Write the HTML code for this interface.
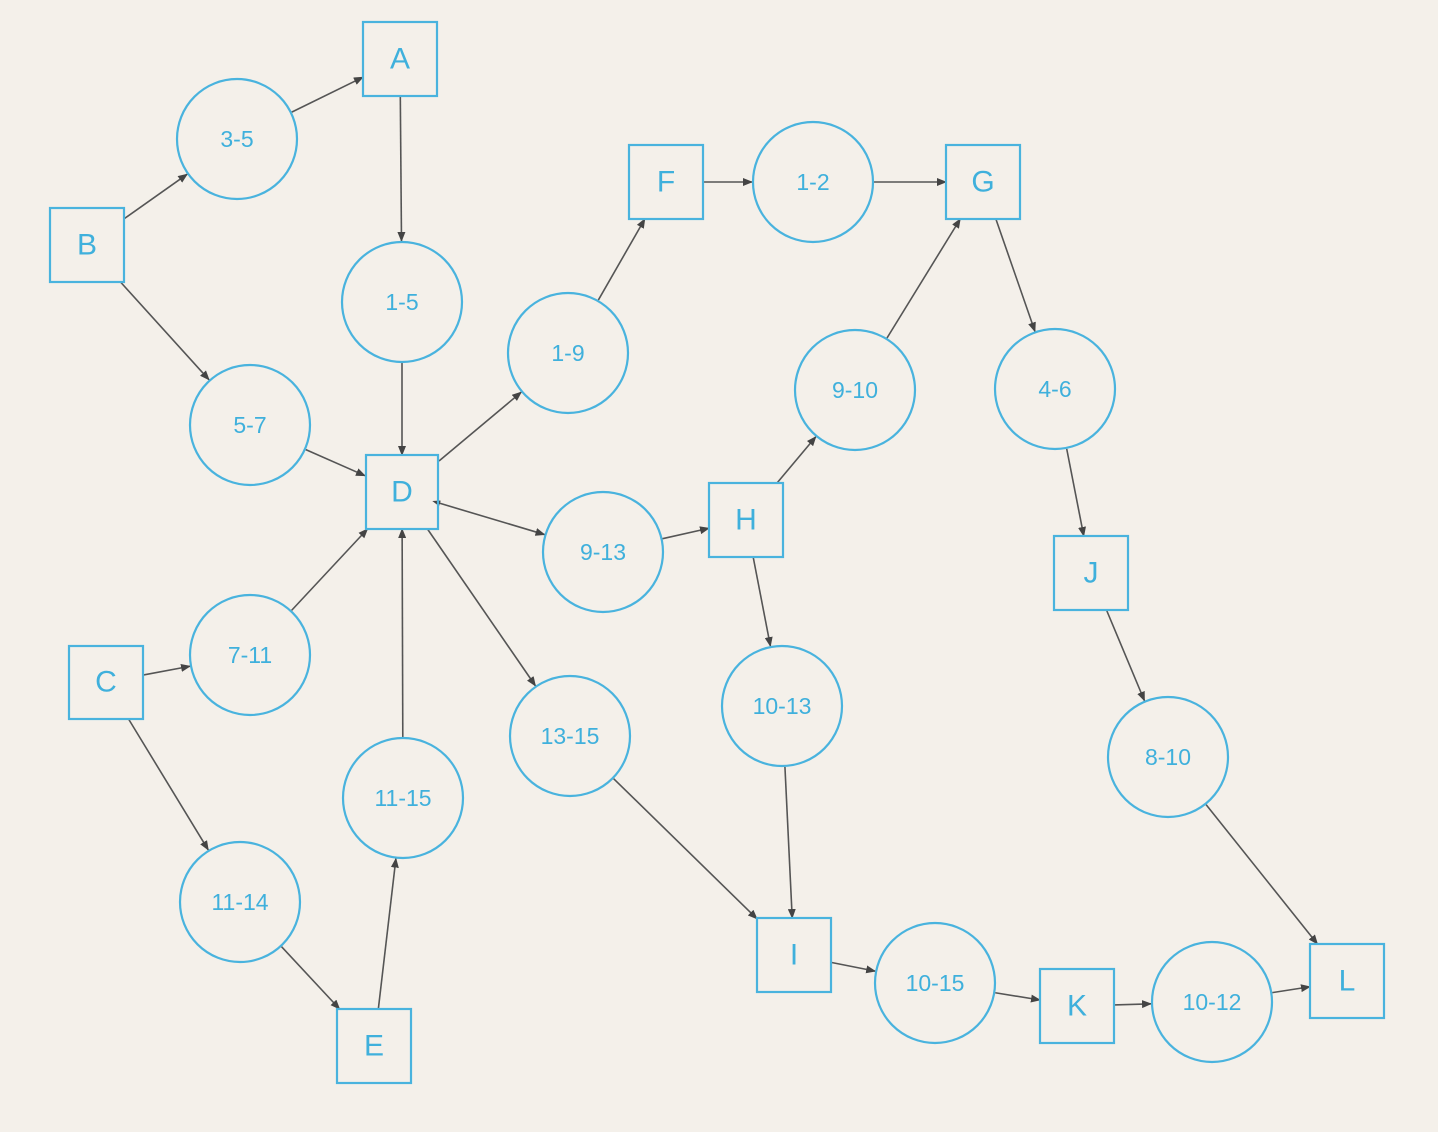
<!DOCTYPE html>
<html><head><meta charset="utf-8"><style>
html,body{margin:0;padding:0;background:#f4f0ea;}
svg{display:block;}
text{font-family:"Liberation Sans",sans-serif;fill:#3fb0dc;text-anchor:middle;dominant-baseline:central;}
</style></head><body>
<svg id="s" width="1438" height="1132" viewBox="0 0 1438 1132">
<defs><marker id="ar" markerWidth="10" markerHeight="8" refX="9" refY="4" orient="auto" markerUnits="userSpaceOnUse"><path d="M0,0 L10,4 L0,8 z" fill="#444"/></marker>
<marker id="ars" markerWidth="8" markerHeight="6" refX="1" refY="3" orient="auto-start-reverse" markerUnits="userSpaceOnUse"><path d="M0,0 L8,3 L0,6 z" fill="#444"/></marker></defs>
<g id="edges" stroke="#555" stroke-width="1.6" fill="none"></g>
<g fill="none" stroke="#49b3de" stroke-width="2.2">
<rect x="363" y="22" width="74" height="74"/><rect x="50" y="208" width="74" height="74"/>
<rect x="69" y="646" width="74" height="73"/><rect x="366" y="455" width="72" height="74"/>
<rect x="337" y="1009" width="74" height="74"/><rect x="629" y="145" width="74" height="74"/>
<rect x="946" y="145" width="74" height="74"/><rect x="709" y="483" width="74" height="74"/>
<rect x="757" y="918" width="74" height="74"/><rect x="1054" y="536" width="74" height="74"/>
<rect x="1040" y="969" width="74" height="74"/><rect x="1310" y="944" width="74" height="74"/>
<circle cx="237" cy="139" r="60"/><circle cx="402" cy="302" r="60"/><circle cx="250" cy="425" r="60"/>
<circle cx="568" cy="353" r="60"/><circle cx="813" cy="182" r="60"/><circle cx="855" cy="390" r="60"/>
<circle cx="1055" cy="389" r="60"/><circle cx="603" cy="552" r="60"/><circle cx="250" cy="655" r="60"/>
<circle cx="570" cy="736" r="60"/><circle cx="782" cy="706" r="60"/><circle cx="1168" cy="757" r="60"/>
<circle cx="403" cy="798" r="60"/><circle cx="240" cy="902" r="60"/><circle cx="935" cy="983" r="60"/>
<circle cx="1212" cy="1002" r="60"/>
</g>
<g font-size="30">
<text x="400" y="59">A</text><text x="87" y="245">B</text><text x="106" y="682">C</text>
<text x="402" y="492">D</text><text x="374" y="1046">E</text><text x="666" y="182">F</text>
<text x="983" y="182">G</text><text x="746" y="520">H</text><text x="794" y="955">I</text>
<text x="1091" y="573">J</text><text x="1077" y="1006">K</text><text x="1347" y="981">L</text>
</g>
<g font-size="23">
<text x="237" y="139">3-5</text><text x="402" y="302">1-5</text><text x="250" y="425">5-7</text>
<text x="568" y="353">1-9</text><text x="813" y="182">1-2</text><text x="855" y="390">9-10</text>
<text x="1055" y="389">4-6</text><text x="603" y="552">9-13</text><text x="250" y="655">7-11</text>
<text x="570" y="736">13-15</text><text x="782" y="706">10-13</text><text x="1168" y="757">8-10</text>
<text x="403" y="798">11-15</text><text x="240" y="902">11-14</text><text x="935" y="983">10-15</text>
<text x="1212" y="1002">10-12</text>
</g>
</svg>
<script>
var N={A:[400,59,'s'],B:[87,245,'s'],C:[106,682,'s'],D:[402,492,'s'],E:[374,1046,'s'],F:[666,182,'s'],G:[983,182,'s'],H:[746,520,'s'],I:[794,955,'s'],J:[1091,573,'s'],K:[1077,1006,'s'],L:[1347,981,'s'],
'3-5':[237,139],'1-5':[402,302],'5-7':[250,425],'1-9':[568,353],'1-2':[813,182],'9-10':[855,390],'4-6':[1055,389],'9-13':[603,552],'7-11':[250,655],'13-15':[570,736],'10-13':[782,706],'8-10':[1168,757],'11-15':[403,798],'11-14':[240,902],'10-15':[935,983],'10-12':[1212,1002]};
var E=[['B','3-5'],['3-5','A'],['A','1-5'],['1-5','D'],['B','5-7'],['5-7','D'],['D','1-9'],['1-9','F'],['F','1-2'],['1-2','G'],['G','4-6'],['4-6','J'],['J','8-10'],['8-10','L'],['9-10','G'],['H','9-10'],['9-13','H'],['D','9-13',1],['H','10-13'],['10-13','I'],['D','13-15'],['13-15','I'],['C','7-11'],['7-11','D'],['C','11-14'],['11-14','E'],['E','11-15'],['11-15','D'],['I','10-15'],['10-15','K'],['K','10-12'],['10-12','L']];
function edge(n,dx,dy){if(n[2]){var h=37;var t=Math.min(h/Math.abs(dx||1e-9),h/Math.abs(dy||1e-9));return [n[0]+dx*t,n[1]+dy*t];}return [n[0]+dx*61,n[1]+dy*61];}
var g=document.getElementById('edges');
E.forEach(function(e){var a=N[e[0]],b=N[e[1]];var dx=b[0]-a[0],dy=b[1]-a[1],l=Math.hypot(dx,dy);dx/=l;dy/=l;
var p=edge(a,dx,dy),q=edge(b,-dx,-dy);
var ln=document.createElementNS('http://www.w3.org/2000/svg','line');
ln.setAttribute('x1',p[0]);ln.setAttribute('y1',p[1]);ln.setAttribute('x2',q[0]);ln.setAttribute('y2',q[1]);
ln.setAttribute('marker-end','url(#ar)');if(e[2])ln.setAttribute('marker-start','url(#ars)');g.appendChild(ln);});
</script>
</body></html>
